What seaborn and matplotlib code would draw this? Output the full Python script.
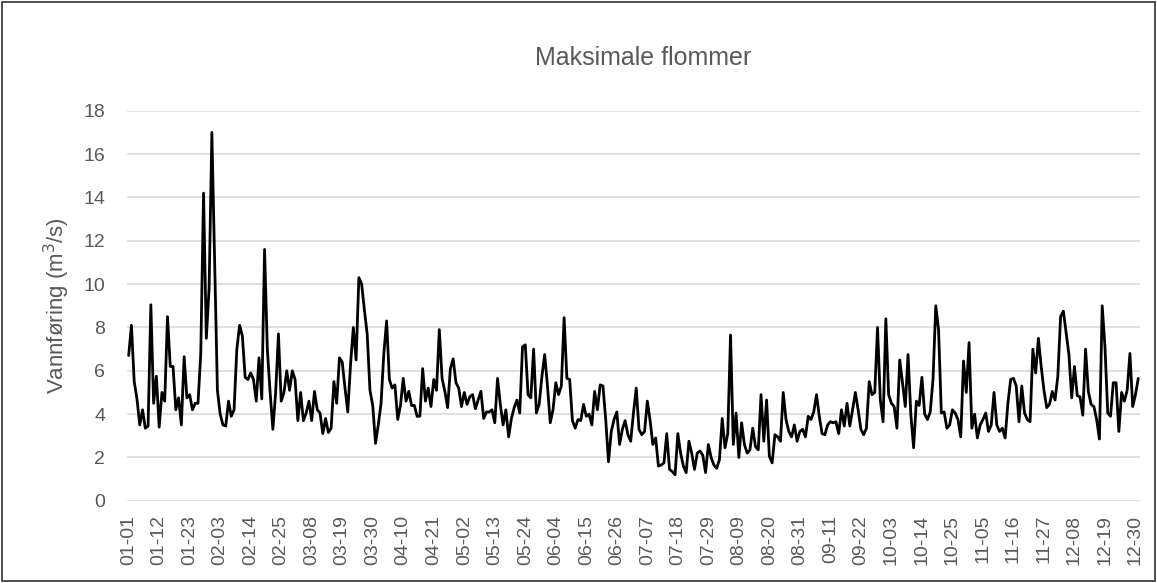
import matplotlib
matplotlib.use("Agg")
import matplotlib.pyplot as plt
import pandas as pd
import seaborn as sns
from matplotlib.patches import Rectangle

# Daily maximum discharge (m3/s), one list per month
jan = [6.7, 8.1, 5.5, 4.7, 3.5, 4.2, 3.35, 3.45, 9.05, 4.5, 5.75, 3.4, 5.0, 4.6, 8.5, 6.2,
       6.2, 4.2, 4.75, 3.5, 6.65, 4.75, 4.9, 4.2, 4.5, 4.5, 6.8, 14.2, 7.5, 9.8, 17.0]
feb = [11.0, 5.1, 4.0, 3.5, 3.45, 4.6, 3.9, 4.2, 7.0, 8.1, 7.6, 5.7, 5.6, 5.9, 5.6, 4.6,
       6.6, 4.7, 11.6, 7.0, 5.0, 3.3, 5.0, 7.7, 4.6, 5.0, 6.0, 5.1]
mar = [6.0, 5.6, 3.7, 5.0, 3.7, 4.05, 4.6, 3.7, 5.05, 4.2, 4.05, 3.1, 3.8, 3.15, 3.35, 5.5,
       4.5, 6.6, 6.4, 5.2, 4.1, 6.3, 8.0, 6.5, 10.3, 10.0, 8.8, 7.7, 5.1, 4.4, 2.65]
apr = [3.5, 4.5, 6.8, 8.3, 5.6, 5.2, 5.35, 3.75, 4.4, 5.65, 4.6, 5.05, 4.4, 4.4, 3.9, 3.9,
       6.1, 4.6, 5.2, 4.35, 5.6, 5.1, 7.9, 5.65, 5.05, 4.3, 6.1, 6.55, 5.45, 5.2]
may = [4.35, 5.0, 4.45, 4.8, 4.9, 4.25, 4.65, 5.05, 3.8, 4.1, 4.1, 4.2, 3.6, 5.65, 4.45, 3.5,
       4.2, 2.95, 3.8, 4.3, 4.65, 4.05, 7.1, 7.2, 4.9, 4.75, 7.0, 4.05, 4.45, 5.75, 6.75]
jun = [5.3, 3.6, 4.2, 5.45, 4.9, 5.3, 8.45, 5.65, 5.6, 3.7, 3.35, 3.75, 3.7, 4.45, 3.9, 4.0,
       3.5, 5.05, 4.2, 5.35, 5.3, 3.75, 1.8, 3.2, 3.75, 4.1, 2.6, 3.3, 3.7, 3.05]
jul = [2.75, 4.05, 5.2, 3.3, 3.05, 3.2, 4.6, 3.7, 2.6, 2.9, 1.6, 1.65, 1.75, 3.1, 1.45, 1.35,
       1.2, 3.1, 2.2, 1.6, 1.3, 2.75, 2.2, 1.45, 2.2, 2.3, 2.1, 1.3, 2.6, 2.0, 1.65]
aug = [1.5, 1.9, 3.8, 2.45, 3.1, 7.65, 2.6, 4.05, 2.0, 3.6, 2.6, 2.2, 2.35, 3.35, 2.5, 2.35,
       4.9, 2.75, 4.65, 2.05, 1.75, 3.05, 2.95, 2.75, 5.0, 3.75, 3.2, 2.95, 3.5, 2.75, 3.2]
sep = [3.3, 2.95, 3.9, 3.75, 4.1, 4.9, 3.9, 3.1, 3.05, 3.5, 3.65, 3.6, 3.65, 3.1, 4.2, 3.45,
       4.5, 3.45, 4.2, 5.0, 4.2, 3.3, 3.05, 3.35, 5.5, 4.9, 5.0, 8.0, 4.65, 3.65]
okt = [8.4, 4.9, 4.5, 4.35, 3.35, 6.5, 5.45, 4.35, 6.75, 4.0, 2.45, 4.6, 4.4, 5.7, 4.0, 3.75,
       4.1, 5.6, 9.0, 7.9, 4.05, 4.1, 3.35, 3.5, 4.2, 4.05, 3.75, 2.95, 6.45, 5.0, 7.3]
nov = [3.35, 4.0, 2.9, 3.5, 3.75, 4.05, 3.2, 3.5, 5.0, 3.5, 3.2, 3.35, 2.9, 4.5, 5.6, 5.65,
       5.3, 3.65, 5.3, 4.05, 3.75, 3.65, 7.0, 5.9, 7.5, 6.2, 5.1, 4.3, 4.45, 5.05]
des = [4.65, 5.75, 8.5, 8.75, 7.75, 6.75, 4.75, 6.2, 4.85, 4.8, 3.95, 7.0, 5.05, 4.45, 4.35, 3.75,
       2.85, 9.0, 7.1, 4.05, 3.9, 5.45, 5.45, 3.2, 5.0, 4.6, 5.1, 6.8, 4.35, 4.9, 5.65]

values = jan + feb + mar + apr + may + jun + jul + aug + sep + okt + nov + des
dates = pd.date_range("2023-01-01", periods=len(values), freq="D")
day_labels = [d.strftime("%m-%d") for d in dates]

df = pd.DataFrame({"day": range(len(values)), "value": values})

sns.set_theme(style="white")
plt.rcParams["font.family"] = ["Liberation Sans", "DejaVu Sans"]

grey = "#595959"
fig = plt.figure(figsize=(11.57, 5.83), dpi=100)
ax = fig.add_axes([0.110, 0.141, 0.875, 0.669])

sns.lineplot(data=df, x="day", y="value", color="black", linewidth=2.0, ax=ax)

ax.set_xlim(-0.5, len(values) - 0.5)
ax.set_ylim(0, 18)
ax.set_yticks(range(0, 19, 2))
ax.yaxis.grid(True, color="#d9d9d9", linewidth=1.2)
ax.xaxis.grid(False)
tick_pos = list(range(0, len(values), 11))
ax.set_xticks(tick_pos)
ax.set_xticklabels([day_labels[i] for i in tick_pos], rotation=90)
ax.tick_params(axis="both", length=0, colors=grey)
ax.tick_params(axis="x", labelsize=14, pad=10)
ax.tick_params(axis="y", labelsize=14, pad=16)
for side in ax.spines:
    ax.spines[side].set_visible(False)

ax.set_xlabel("")
ax.set_ylabel("Vannføring (m$^3$/s)", color=grey, fontsize=16, labelpad=8)
fig.text(0.556, 0.9, "Maksimale flommer", ha="center", va="center", fontsize=18, color=grey)

# Chart border
fig.patches.append(Rectangle((0.002, 0.003), 0.996, 0.994, transform=fig.transFigure,
                             fill=False, edgecolor="#404040", linewidth=1.3))

fig.savefig("out.png", dpi=100)
